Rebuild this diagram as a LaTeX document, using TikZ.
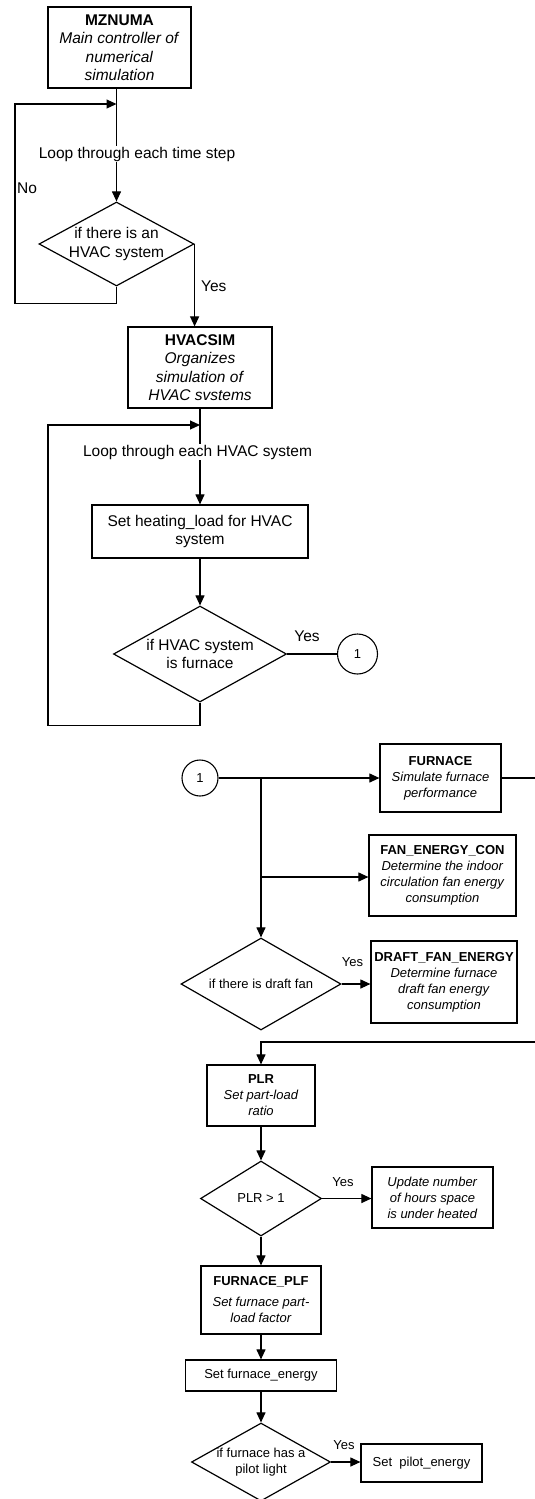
\documentclass[tikz,border=0pt]{standalone}
\usepackage{fontspec}
\setmainfont{Liberation Sans}
\usetikzlibrary{arrows.meta,shapes.geometric}

\newcommand{\bigtxt}{\fontsize{15.5}{18.5}\selectfont}
\newcommand{\smalltxt}{\fontsize{13}{16}\selectfont}

\begin{document}
\begin{tikzpicture}[
    x=1pt, y=-1pt,
    box/.style={draw, line width=1.2pt, inner sep=1pt, align=center},
    decide/.style={draw, diamond, line width=1.2pt, inner sep=0pt},
    dtext/.style={align=center, inner sep=0pt},
    conn/.style={draw, circle, line width=1.1pt, inner sep=0pt, font=\smalltxt},
    flow/.style={-{Triangle[length=10pt, width=9pt]}, line width=1.1pt},
    link/.style={line width=1.1pt},
    gap/.style={fill=white, inner sep=1pt},
]
    \useasboundingbox (0,0) rectangle (535,1499);

    % time step loop
    \node[box, font=\bigtxt, minimum width=143, minimum height=81] (mznuma) at (119.5,47.5)
        {\textbf{MZNUMA}\\ \textit{Main controller of}\\ \textit{numerical}\\ \textit{simulation}};
    \node[decide, minimum width=155, minimum height=84,
          label={[dtext, font=\bigtxt]center:if there is an\\HVAC system}] (hashvac) at (116.5,244) {};
    \coordinate (stepin) at (116.5,104);
    \draw[flow] (hashvac.north |- mznuma.south) -- (hashvac.north);
    \draw[flow] (hashvac.south) -- ++(0,17) -| (15,104) -- (stepin);
    \node[gap, font=\bigtxt] (steplbl) at (137,154) {Loop through each time step};
    \node[font=\bigtxt, anchor=west, inner sep=0pt] (nolbl) at (17,188) {No};

    \node[box, font=\bigtxt, minimum width=144, minimum height=81] (hvacsim) at (200,367.5)
        {\textbf{HVACSIM}\\ \textit{Organizes}\\ \textit{simulation of}\\ \textit{HVAC svstems}};
    \draw[flow] (hashvac.east) -- (hashvac.east |- hvacsim.north);
    \node[font=\bigtxt, anchor=west, inner sep=0pt] (yes1) at (201,286) {Yes};

    % loop over the HVAC systems
    \node[box, font=\bigtxt, minimum width=216, minimum height=53] (heatload) at (200,531.5)
        {Set heating\_load for HVAC\\ system};
    \node[decide, minimum width=173, minimum height=96,
          label={[dtext, font=\bigtxt]center:if HVAC system\\is furnace}] (isfurn) at (200,654) {};
    \node[conn, minimum size=40] (goto1) at (357.5,654) {1};
    \coordinate (sysin) at (200,425);
    \draw[flow] (hvacsim.south) -- (heatload.north);
    \draw[flow] (heatload.south) -- (isfurn.north);
    \draw[flow] (isfurn.south) -- ++(0,23) -| (48,425) -- (sysin);
    \draw[link] (isfurn.east) -- (goto1.west);
    \node[gap, font=\bigtxt] (syslbl) at (197.5,452) {Loop through each HVAC system};
    \node[font=\bigtxt, inner sep=0pt] (yes2) at (307,636) {Yes};

    % furnace branch
    \node[conn, minimum size=36] (from1) at (200,778) {1};
    \node[box, font=\smalltxt, minimum width=121, minimum height=68] (furnace) at (440.5,778)
        {\textbf{FURNACE}\\ \textit{Simulate furnace}\\ \textit{performance}};
    \node[box, font=\smalltxt, minimum width=147, minimum height=81] (fancon) at (442.5,875.5)
        {\textbf{FAN\_ENERGY\_CON}\\ \textit{Determine the indoor}\\ \textit{circulation fan energy}\\ \textit{consumption}};
    \node[decide, minimum width=160, minimum height=92,
          label={[dtext, font=\smalltxt]center:if there is draft fan}] (draftq) at (261,984) {};
    \node[box, font=\smalltxt, minimum width=146, minimum height=82] (draftfan) at (444,982)
        {\textbf{DRAFT\_FAN\_ENERGY}\\ \textit{Determine furnace}\\ \textit{draft fan energy}\\ \textit{consumption}};
    \coordinate (split) at (261,778);
    \coordinate (rim) at (535,1042);
    \draw[flow] (from1.east) -- (furnace.west);
    \draw[flow] (split) -- (draftq.north);
    \draw[flow] (split |- 0,877) -- (fancon.west |- 0,877);
    \draw[flow] (draftq.east) -- (draftq.east -| draftfan.west);
    \draw[link] (furnace.east) -- (furnace.east -| rim);
    \node[font=\smalltxt, inner sep=0pt] (yes3) at (352.5,962) {Yes};

    % part load
    \node[box, font=\smalltxt, minimum width=108, minimum height=61] (plr) at (261,1095.5)
        {\textbf{PLR}\\ \textit{Set part-load}\\ \textit{ratio}};
    \node[decide, minimum width=121, minimum height=75,
          label={[dtext, font=\smalltxt]center:PLR > 1}] (plrq) at (261,1198.5) {};
    \node[box, font=\smalltxt, minimum width=121, minimum height=61] (underheat) at (432.5,1197.5)
        {\textit{Update number}\\ \textit{of hours space}\\ \textit{is under heated}};
    \node[box, font=\smalltxt, minimum width=120, minimum height=68] (plf) at (261,1300)
        {\textbf{FURNACE\_PLF}\\[5pt] \textit{Set furnace part-}\\ \textit{load factor}};
    \node[box, font=\smalltxt, minimum width=151, minimum height=31] (energy) at (261,1375.5)
        {Set furnace\_energy};
    \node[decide, minimum width=139, minimum height=78,
          label={[dtext, font=\smalltxt]center:if furnace has a\\pilot light}] (pilotq) at (261,1462) {};
    \node[box, font=\smalltxt, minimum width=121, minimum height=38] (pilot) at (421.5,1463)
        {Set~ pilot\_energy};
    \draw[flow] (rim) -| (plr.north);
    \draw[flow] (plr.south) -- (plrq.north);
    \draw[flow] (plrq.east) -- (plrq.east -| underheat.west);
    \draw[flow] (plrq.south) -- (plf.north);
    \draw[flow] (plf.south) -- (energy.north);
    \draw[flow] (energy.south) -- (pilotq.north);
    \draw[flow] (pilotq.east) -- (pilotq.east -| pilot.west);
    \node[font=\smalltxt, inner sep=0pt] (yes4) at (343,1182) {Yes};
    \node[font=\smalltxt, inner sep=0pt] (yes5) at (344,1445) {Yes};
\end{tikzpicture}
\end{document}
